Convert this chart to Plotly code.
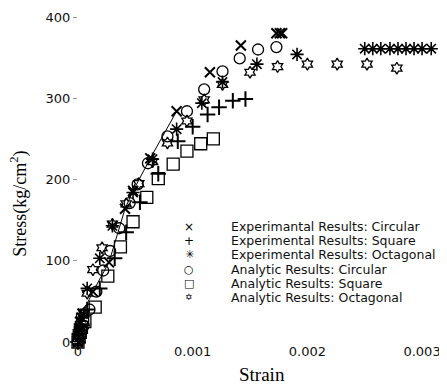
import plotly.graph_objects as go

# ---------------- data ----------------
exp_circ_x = [0, 0.00001, 0.00002, 0.00004, 0.00013, 0.00027, 0.00041, 0.00048, 0.00063, 0.00086,
              0.00115, 0.00142, 0.00173, 0.00176, 0.00178]
exp_circ_y = [0, 12, 25, 35, 62, 98, 164, 186, 226, 284, 332, 365, 380, 380, 380]

exp_sq_x = [0, 0.00001, 0.00003, 0.00008, 0.00019, 0.00032, 0.00042, 0.00054, 0.0007, 0.00087,
            0.001, 0.00113, 0.00123, 0.00135, 0.00146]
exp_sq_y = [0, 10, 22, 40, 66, 103, 135, 172, 207, 247, 265, 280, 289, 297, 299]

exp_oct_x = [0, 0.00001, 0.00003, 0.00008, 0.00019, 0.0003, 0.00048, 0.00065, 0.00086, 0.00108,
             0.00126, 0.00156, 0.00191, 0.0025, 0.00257, 0.00264, 0.00272, 0.00279, 0.00286,
             0.00293, 0.003, 0.00308]
exp_oct_y = [0, 15, 30, 66, 103, 143, 184, 225, 262, 294, 320, 342, 354, 361, 361, 361, 361, 361,
             361, 361, 361, 361]

ana_circ_x = [0, 0.00002, 0.00005, 0.0001, 0.00016, 0.00022, 0.00028, 0.00036, 0.00045, 0.00052,
              0.00061, 0.00078, 0.00095, 0.0011, 0.00126, 0.00141, 0.00157, 0.00173]
ana_circ_y = [0, 8, 20, 40, 62, 88, 112, 140, 171, 194, 220, 253, 284, 311, 333, 349, 360, 363]

ana_sq_x = [0, 0.00001, 0.00002, 0.00003, 0.00004, 0.00006, 0.00015, 0.00026, 0.00037, 0.00048,
            0.0006, 0.0007, 0.00083, 0.00095, 0.00107, 0.00118]
ana_sq_y = [0, 6, 12, 18, 28, 25, 43, 81, 117, 148, 178, 201, 219, 235, 244, 250]

ana_oct_x = [0, 0.00002, 0.00005, 0.00008, 0.00013, 0.00021, 0.0003, 0.00042, 0.00053, 0.00065,
             0.00078, 0.00095, 0.0011, 0.00126, 0.0015, 0.00174, 0.002, 0.00226, 0.00252, 0.00278]
ana_oct_y = [0, 15, 35, 60, 89, 116, 145, 170, 195, 222, 245, 272, 298, 317, 332, 339, 342, 342,
             342, 337]

legend_labels = [
    "Experimantal Results: Circular",
    "Experimental Results: Square",
    "Experimental Results: Octagonal",
    "Analytic Results: Circular",
    "Analytic Results: Square",
    "Analytic Results: Octagonal",
]
legend_glyphs = ["\u00d7", "+", "\u2733", "\u25cb", "\u25a1", "\u2721"]

x_tick_vals = [0, 0.001, 0.002, 0.003]
x_tick_text = ["0", "0.001", "0.002", "0.003"]
y_tick_vals = [0, 100, 200, 300, 400]

# ---------------- figure ----------------
OFF = 8  # page body margin of the html page
W, H = 447 - OFF, 386 - OFF
ML, MR, MT, MB = 70, 2, 7, 44
PW, PH = W - ML - MR, H - MT - MB

def px_x(p):
    return (p - OFF - ML) / PW

def px_y(p):
    return (H - MB - (p - OFF)) / PH

fig = go.Figure()

# thin connecting line through the lower experimental circular points
fig.add_trace(go.Scatter(x=exp_circ_x[:10], y=exp_circ_y[:10], mode="lines",
                         line=dict(color="black", width=1), showlegend=False,
                         hoverinfo="skip", cliponaxis=False))

series = [
    (exp_circ_x, exp_circ_y, "x-thin", 10, 2.0),
    (exp_sq_x, exp_sq_y, "cross-thin", 11, 2.0),
    (exp_oct_x, exp_oct_y, "asterisk", 11, 1.6),
    (ana_circ_x, ana_circ_y, "circle-open", 11, 1.3),
    (ana_sq_x, ana_sq_y, "square-open", 12, 1.3),
    (ana_oct_x, ana_oct_y, "hexagram-open", 9, 1.3),
]
for (xs, ys, sym, sz, lw), name in zip(series, legend_labels):
    fig.add_trace(go.Scatter(
        x=xs, y=ys, mode="markers", name=name, cliponaxis=False,
        marker=dict(symbol=sym, size=sz, color="black",
                    line=dict(color="black", width=lw)),
    ))

glyph_sizes = [12, 12, 11, 11, 11, 9]
annotations = []
row0, step = 226, 14.2
for i, (g, lab) in enumerate(zip(legend_glyphs, legend_labels)):
    yy = px_y(row0 + i * step)
    annotations.append(dict(x=px_x(189), y=yy, xref="paper", yref="paper", text=g,
                            showarrow=False, xanchor="center", yanchor="middle",
                            font=dict(family="DejaVu Sans", size=glyph_sizes[i], color="black")))
    annotations.append(dict(x=px_x(229), y=yy, xref="paper", yref="paper", text=lab,
                            showarrow=False, xanchor="left", yanchor="middle",
                            font=dict(family="DejaVu Sans", size=12.5, color="#111")))

annotations.append(dict(x=px_x(19), y=px_y(203), xref="paper", yref="paper",
                        text="Stress(kg/cm<sup>2</sup>)", textangle=-90, showarrow=False,
                        xanchor="center", yanchor="middle",
                        font=dict(family="Liberation Serif", size=18, color="black")))
annotations.append(dict(x=px_x(262), y=px_y(375), xref="paper", yref="paper",
                        text="Strain", showarrow=False, xanchor="center", yanchor="middle",
                        font=dict(family="Liberation Serif", size=19, color="black")))

fig.update_layout(
    width=W, height=H,
    margin=dict(l=ML, r=MR, t=MT, b=MB, pad=0),
    paper_bgcolor="white", plot_bgcolor="white",
    showlegend=False,
    annotations=annotations,
    xaxis=dict(range=[0, 0.0032], tickvals=x_tick_vals, ticktext=x_tick_text,
               showgrid=False, zeroline=False, showline=False, ticklabeloverflow="allow",
               ticks="", tickfont=dict(family="DejaVu Sans", size=13, color="#111")),
    yaxis=dict(range=[0, 400], tickvals=y_tick_vals,
               showgrid=False, zeroline=False, showline=False, ticklabeloverflow="allow",
               ticks="outside", ticklen=4, tickcolor="#999",
               tickfont=dict(family="DejaVu Sans", size=13, color="#111")),
)

fig.write_html("out.html")
